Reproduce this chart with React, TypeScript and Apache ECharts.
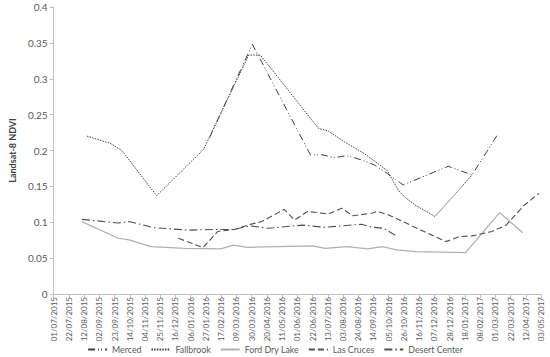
import React, { useEffect, useRef } from "react";
import * as echarts from "echarts";

const seriesNames = ["Merced", "Fallbrook", "Ford Dry Lake", "Las Cruces", "Desert Center"];

const mercedDates = ["01/02/2016", "31/03/2016", "19/06/2016", "05/07/2016", "23/07/2016", "08/08/2016", "28/08/2016", "15/09/2016", "03/10/2016", "25/10/2016", "26/12/2016", "28/01/2017", "04/03/2017"];
const mercedValues = [0.218, 0.348, 0.194, 0.194, 0.19, 0.193, 0.187, 0.18, 0.168, 0.152, 0.178, 0.166, 0.222];

const fallbrookDates = ["16/08/2015", "17/09/2015", "03/10/2015", "20/11/2015", "24/01/2016", "26/03/2016", "11/04/2016", "30/06/2016", "14/07/2016", "05/08/2016", "01/09/2016", "03/10/2016", "18/10/2016", "27/10/2016", "12/11/2016", "08/12/2016", "28/01/2017"];
const fallbrookValues = [0.22, 0.21, 0.2, 0.137, 0.202, 0.333, 0.333, 0.231, 0.227, 0.212, 0.196, 0.172, 0.145, 0.135, 0.123, 0.108, 0.166];

const fordDates = ["09/08/2015", "28/09/2015", "13/10/2015", "12/11/2015", "29/12/2015", "16/02/2016", "05/03/2016", "24/03/2016", "22/06/2016", "09/07/2016", "09/08/2016", "06/09/2016", "26/09/2016", "16/10/2016", "12/11/2016", "19/01/2017", "07/03/2017", "08/04/2017"];
const fordValues = [0.1008, 0.0777, 0.0753, 0.066, 0.0637, 0.0628, 0.068, 0.065, 0.067, 0.0637, 0.066, 0.0628, 0.066, 0.0614, 0.059, 0.0576, 0.1134, 0.0855];

const lasCrucesDates = ["20/12/2015", "23/01/2016", "12/02/2016", "06/03/2016", "28/03/2016", "13/04/2016", "14/05/2016", "28/05/2016", "15/06/2016", "14/07/2016", "01/08/2016", "17/08/2016", "13/09/2016", "19/09/2016", "05/10/2016", "23/12/2016", "10/01/2017", "28/01/2017", "24/02/2017", "16/03/2017", "09/04/2017", "30/04/2017"];
const lasCrucesValues = [0.0777, 0.0646, 0.087, 0.09, 0.097, 0.101, 0.118, 0.103, 0.115, 0.1116, 0.1195, 0.109, 0.113, 0.115, 0.11, 0.073, 0.08, 0.081, 0.087, 0.096, 0.123, 0.14];

const desertDates = ["09/08/2015", "28/09/2015", "13/10/2015", "16/11/2015", "03/01/2016", "08/02/2016", "05/03/2016", "28/03/2016", "22/04/2016", "08/06/2016", "09/07/2016", "28/08/2016", "13/09/2016", "28/09/2016", "14/10/2016"];
const desertValues = [0.104, 0.099, 0.101, 0.0925, 0.089, 0.09, 0.09, 0.095, 0.0916, 0.096, 0.093, 0.0972, 0.093, 0.0916, 0.082];

const yTicks = [0, 0.05, 0.1, 0.15, 0.2, 0.25, 0.3, 0.35, 0.4];
const axisStart = "01/07/2015";
const axisEnd = "03/05/2017";
const tickDays = 21;

const DAY = 86400000;
function toUTC(s: string) {
  const [d, m, y] = s.split("/").map(Number);
  return Date.UTC(y, m - 1, d);
}
const BASE = toUTC(axisStart);
const dayOf = (s: string) => Math.round((toUTC(s) - BASE) / DAY);
const pad = (n: number) => (n < 10 ? "0" + n : "" + n);
function fmt(v: number) {
  const dt = new Date(BASE + Math.round(v) * DAY);
  return pad(dt.getUTCDate()) + "/" + pad(dt.getUTCMonth() + 1) + "/" + dt.getUTCFullYear();
}
const pairs = (ds: string[], vs: number[]) => ds.map((d, i) => [dayOf(d), vs[i]]);

const FONT = "Lato, 'Open Sans', sans-serif";

export default function App() {
  const ref = useRef<HTMLDivElement>(null);
  useEffect(() => {
    if (!ref.current) return;
    const chart = echarts.init(ref.current, undefined, { renderer: "svg" });
    const dark = "#505050";
    const mk = (name: string, data: any[], color: string, type: any, width = 1) => ({
      name,
      type: "line",
      data,
      symbol: "none",
      showSymbol: false,
      lineStyle: { color, width, type },
      itemStyle: { color },
    });
    chart.setOption({
      animation: false,
      textStyle: { fontFamily: FONT },
      grid: { left: 42, right: 9, top: 7, bottom: 63, containLabel: false },
      xAxis: {
        type: "value",
        min: 0,
        max: dayOf(axisEnd),
        interval: tickDays,
        axisLine: { show: true, lineStyle: { color: "#bfbfbf", width: 1 } },
        axisTick: { show: true, length: 4, lineStyle: { color: "#bfbfbf" } },
        splitLine: { show: false },
        axisLabel: {
          rotate: 90,
          margin: 3,
          fontSize: 8,
          color: "#595959",
          fontFamily: FONT,
          formatter: (v: number) => fmt(v),
          showMinLabel: true,
          showMaxLabel: true,
        },
      },
      yAxis: {
        type: "value",
        min: yTicks[0],
        max: yTicks[yTicks.length - 1],
        interval: 0.05,
        name: "Landsat-8 NDVI",
        nameLocation: "middle",
        nameGap: 29,
        nameTextStyle: { fontSize: 9, fontWeight: "bold", color: "#404040", fontFamily: FONT },
        axisLine: { show: true, lineStyle: { color: "#bfbfbf", width: 1 } },
        axisTick: { show: true, length: 4, lineStyle: { color: "#bfbfbf" } },
        splitLine: { show: false },
        axisLabel: {
          margin: 6,
          fontSize: 10,
          color: "#595959",
          fontFamily: FONT,
          formatter: (v: number) => String(Math.round(v * 100) / 100),
        },
      },
      legend: {
        top: 345,
        left: "center",
        padding: 0,
        itemWidth: 19,
        itemHeight: 9,
        itemGap: 9,
        itemStyle: { opacity: 0 },
        textStyle: { fontSize: 8.8, color: "#595959", fontFamily: FONT },
        data: seriesNames,
      },
      series: [
        mk(seriesNames[0], pairs(mercedDates, mercedValues), "#404040", [7, 3, 1, 2, 1, 3]),
        mk(seriesNames[1], pairs(fallbrookDates, fallbrookValues), "#404040", [1.5, 1.2]),
        mk(seriesNames[2], pairs(fordDates, fordValues), "#b0b0b0", "solid", 1.25),
        mk(seriesNames[3], pairs(lasCrucesDates, lasCrucesValues), dark, [6, 3], 1.1),
        mk(seriesNames[4], pairs(desertDates, desertValues), dark, [8, 3, 1.5, 3], 1.1),
      ],
    });
    return () => chart.dispose();
  }, []);
  return <div ref={ref} style={{ width: 550, height: 357, position: "absolute", left: 0, top: 0 }} />;
}
